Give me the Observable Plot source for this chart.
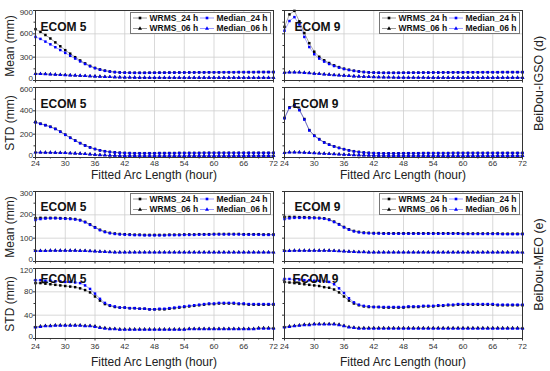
<!DOCTYPE html>
<html><head><meta charset="utf-8">
<script src="https://cdn.jsdelivr.net/npm/d3@7"></script>
<script src="https://cdn.jsdelivr.net/npm/@observablehq/plot@0.6"></script>
<style>
html,body{margin:0;padding:0;background:#fff;}
#chart{position:relative;width:550px;height:371px;overflow:hidden;background:#fff;font-family:"Liberation Sans",Arial,sans-serif;}
.legend{position:absolute;background:#fff;border:1px solid #777;box-sizing:border-box;}
</style></head><body><div id="chart"></div>
<script>
// ---------- data ----------
const hours = [24,25,26,27,28,29,30,31,32,33,34,35,36,37,38,39,40,41,42,43,44,45,46,47,48,49,50,51,52,53,54,55,56,57,58,59,60,61,62,63,64,65,66,67,68,69,70,71,72];
const xTicks = [24,30,36,42,48,54,60,66,72];
const xMinor = [27,33,39,45,51,57,63,69];
const seriesNames = ["WRMS_24 h","WRMS_06 h","Median_24 h","Median_06 h"];

// BeiDou-IGSO, ECOM 5
const IGSO_E5_MEAN_W24 = [660,625,585,540,490,440,390,345,300,258,220,188,162,142,127,116,109,104,101,100,99,99,99,100,100,101,101,102,102,103,103,104,104,105,105,106,106,106,107,107,107,108,108,108,108,109,109,109,109];
const IGSO_E5_MEAN_W06 = [88,86,84,81,78,75,72,69,66,63,60,57,54,51,48,46,44,42,41,40,39,38,38,37,37,37,37,37,36,36,36,36,36,36,36,37,37,37,37,37,37,37,37,36,36,36,36,36,36];
const IGSO_E5_MEAN_M24 = [560,535,500,465,428,392,355,318,282,245,212,182,158,139,124,114,107,103,100,99,98,98,98,99,99,100,100,101,101,102,102,103,103,104,104,105,105,105,106,106,106,107,107,107,107,108,108,108,108];
const IGSO_E5_MEAN_M06 = [85,84,82,79,76,73,70,67,64,61,58,55,52,49,47,45,43,41,40,39,38,37,37,36,36,36,36,36,35,35,35,35,35,35,35,36,36,36,36,36,36,36,36,35,35,35,35,35,35];
const IGSO_E5_STD_W24 = [305,290,278,264,246,222,196,170,146,124,104,87,73,62,54,48,44,41,39,38,37,37,37,37,37,38,38,38,38,39,39,39,39,39,40,40,40,40,40,40,40,40,40,40,40,40,40,40,40];
const IGSO_E5_STD_W06 = [45,44,44,43,42,41,40,38,36,34,31,28,25,22,20,18,17,16,15,15,15,14,14,14,14,14,14,14,14,14,14,15,15,15,15,15,15,15,15,15,15,15,15,15,15,15,15,15,15];
const IGSO_E5_STD_M24 = [300,288,276,262,244,220,194,168,144,122,102,86,72,61,53,47,43,40,38,37,36,36,36,36,36,37,37,37,37,38,38,38,38,38,39,39,39,39,39,39,39,39,39,39,39,39,39,39,39];
const IGSO_E5_STD_M06 = [43,43,42,42,41,40,39,37,35,33,30,27,24,21,19,17,16,15,14,14,14,13,13,13,13,13,13,13,13,13,13,14,14,14,14,14,14,14,14,14,14,14,14,14,14,14,14,14,14];

// BeiDou-IGSO, ECOM 9
const IGSO_E9_MEAN_W24 = [690,850,895,760,610,480,370,305,260,225,195,172,152,138,126,117,110,105,102,100,99,99,99,99,100,100,101,101,102,102,103,103,104,104,105,105,105,106,106,106,107,107,107,107,108,108,108,108,108];
const IGSO_E9_MEAN_W06 = [105,108,108,106,102,97,92,87,82,77,72,68,64,60,56,53,50,48,46,44,43,42,41,40,40,39,39,39,39,38,38,38,38,38,38,38,38,38,38,38,38,38,38,38,38,38,38,38,38];
const IGSO_E9_MEAN_M24 = [640,765,815,720,560,430,338,282,243,212,186,165,147,134,123,115,108,104,101,99,98,98,98,98,99,99,100,100,101,101,102,102,103,103,104,104,104,105,105,105,106,106,106,106,107,107,107,107,107];
const IGSO_E9_MEAN_M06 = [102,105,105,103,99,94,89,84,79,74,70,66,62,58,54,51,48,46,44,42,41,40,39,38,38,37,37,37,37,36,36,36,36,36,36,36,36,36,36,36,36,36,36,36,36,36,36,36,36];
const IGSO_E9_STD_W24 = [340,430,450,410,330,235,188,158,130,111,96,83,72,62,54,48,43,40,38,37,36,36,36,36,37,37,37,37,38,38,38,38,38,38,39,39,39,39,39,39,39,39,39,39,39,39,39,39,39];
const IGSO_E9_STD_W06 = [42,45,46,45,43,41,39,37,35,33,31,29,27,25,23,21,19,18,17,16,16,15,15,15,15,15,15,15,15,15,15,15,15,15,15,15,15,15,15,15,15,15,15,15,15,15,15,15,15];
const IGSO_E9_STD_M24 = [335,425,447,405,325,232,185,155,128,109,94,81,70,60,52,46,42,39,37,36,35,35,35,35,36,36,36,36,37,37,37,37,37,37,38,38,38,38,38,38,38,38,38,38,38,38,38,38,38];
const IGSO_E9_STD_M06 = [40,43,44,43,41,39,37,35,33,31,29,27,25,23,21,19,18,17,16,15,15,14,14,14,14,14,14,14,14,14,14,14,14,14,14,14,14,14,14,14,14,14,14,14,14,14,14,14,14];

// BeiDou-MEO, ECOM 5
const MEO_E5_MEAN_W24 = [186,187,187,187,187,186,185,184,182,178,170,159,147,136,128,123,120,118,117,116,115,115,114,114,114,114,114,115,115,115,116,116,116,117,117,117,118,118,118,118,118,118,117,117,117,117,116,116,116];
const MEO_E5_MEAN_W06 = [46,46,46,47,47,47,47,47,47,46,46,45,44,43,42,41,40,40,40,40,40,40,40,40,40,40,40,40,40,40,40,40,40,40,40,40,40,40,40,40,40,40,40,40,40,40,40,40,40];
const MEO_E5_MEAN_M24 = [178,182,184,185,185,184,183,182,180,176,168,157,145,134,126,121,118,116,115,114,113,113,112,112,112,112,112,113,113,113,114,114,114,115,115,115,116,116,116,116,116,116,115,115,115,115,114,114,114];
const MEO_E5_MEAN_M06 = [45,45,45,46,46,46,46,46,46,45,45,44,43,42,41,40,39,39,39,39,39,39,39,39,39,39,39,39,39,39,39,39,39,39,39,39,39,39,39,39,39,39,39,39,39,39,39,39,39];
const MEO_E5_STD_W24 = [95,95,94,93,92,91,90,89,88,86,83,79,72,65,59,56,54,53,53,52,52,51,51,50,50,50,50,51,52,53,54,55,56,57,58,59,59,60,60,60,60,59,59,58,58,58,58,58,58];
const MEO_E5_STD_W06 = [20,21,22,22,23,23,23,23,23,23,22,22,21,19,18,17,17,16,16,16,16,16,16,16,16,16,16,16,16,16,16,17,17,17,17,17,17,17,17,17,17,17,17,17,17,18,18,18,18];
const MEO_E5_STD_M24 = [100,100,99,99,98,98,97,97,96,95,91,85,77,68,61,57,55,53,53,52,52,51,51,50,50,51,51,52,53,54,55,56,57,58,59,60,60,61,61,61,61,60,60,59,59,59,59,59,59];
const MEO_E5_STD_M06 = [19,20,21,21,22,22,22,22,22,22,21,21,20,18,17,16,16,15,15,15,15,15,15,15,15,15,15,15,15,15,15,16,16,16,16,16,16,16,16,16,16,16,16,16,16,17,17,17,17];

// BeiDou-MEO, ECOM 9
const MEO_E9_MEAN_W24 = [191,191,191,190,190,189,188,187,185,180,171,160,148,138,131,127,124,123,122,122,121,121,121,121,121,121,121,121,121,121,121,121,121,121,121,121,120,120,120,120,120,120,120,120,119,119,119,119,119];
const MEO_E9_MEAN_W06 = [46,46,47,47,47,47,47,47,47,47,46,45,44,43,42,41,41,40,40,40,40,40,40,40,40,40,40,40,40,40,40,40,40,40,40,40,40,40,40,40,40,40,40,40,40,40,40,40,40];
const MEO_E9_MEAN_M24 = [182,185,187,187,187,186,186,185,183,178,169,158,146,136,129,125,122,121,120,120,119,119,119,119,119,119,119,119,119,119,119,119,119,119,119,119,118,118,118,118,118,118,118,118,117,117,117,117,117];
const MEO_E9_MEAN_M06 = [45,45,46,46,46,46,46,46,46,46,45,44,43,42,41,40,40,39,39,39,39,39,39,39,39,39,39,39,39,39,39,39,39,39,39,39,39,39,39,39,39,39,39,39,39,39,39,39,39];
const MEO_E9_STD_W24 = [97,96,95,94,93,92,91,90,88,87,84,79,72,65,60,57,55,54,54,54,53,53,53,53,53,54,54,54,55,55,55,56,56,57,57,58,58,58,58,58,58,58,58,57,57,57,57,57,57];
const MEO_E9_STD_W06 = [20,21,22,23,24,24,25,25,25,25,25,24,22,20,19,18,18,18,18,18,18,18,18,18,18,18,18,18,18,18,18,18,18,18,18,18,18,18,18,18,18,18,18,18,18,18,18,18,18];
const MEO_E9_STD_M24 = [102,102,101,101,100,100,99,99,98,97,93,86,78,69,62,58,56,55,54,54,54,54,54,54,54,55,55,55,56,56,56,57,57,58,58,59,59,59,59,59,59,59,59,58,58,58,58,58,58];
const MEO_E9_STD_M06 = [19,20,21,22,23,23,24,24,24,24,24,23,21,19,18,17,17,17,17,17,17,17,17,17,17,17,17,17,17,17,17,17,17,17,17,17,17,17,17,17,17,17,17,17,17,17,17,17,17];

// ---------- styling / layout ----------
const FONT = '"Liberation Sans", Arial, sans-serif';
const colorRange = ["#000000","#000000","#0000ff","#0000ff"];
const symbolRange = ["square","triangle","square","triangle"];
const PW = 238, PH = 70;
const colLeft = [35, 284];
const groups = [
  {name:"BeiDou-IGSO (d)", meanTop:10, stdTop:87, meanDomain:[0,900], meanTicks:[0,300,600,900], meanMinor:[150,450,750],
   stdDomain:[0,600], stdTicks:[0,200,400,600], stdMinor:[100,300,500], xPad:0.5, xTitleY:179, labelDy:[12,12],
   data:[[IGSO_E5_MEAN_W24,IGSO_E5_MEAN_W06,IGSO_E5_MEAN_M24,IGSO_E5_MEAN_M06],[IGSO_E5_STD_W24,IGSO_E5_STD_W06,IGSO_E5_STD_M24,IGSO_E5_STD_M06],
         [IGSO_E9_MEAN_W24,IGSO_E9_MEAN_W06,IGSO_E9_MEAN_M24,IGSO_E9_MEAN_M06],[IGSO_E9_STD_W24,IGSO_E9_STD_W06,IGSO_E9_STD_M24,IGSO_E9_STD_M06]]},
  {name:"BeiDou-MEO (e)", meanTop:191, stdTop:268, meanDomain:[0,300], meanTicks:[0,100,200,300], meanMinor:[50,150,250],
   stdDomain:[0,120], stdTicks:[0,40,80,120], stdMinor:[20,60,100], xPad:2, xTitleY:366, labelDy:[11,6],
   data:[[MEO_E5_MEAN_W24,MEO_E5_MEAN_W06,MEO_E5_MEAN_M24,MEO_E5_MEAN_M06],[MEO_E5_STD_W24,MEO_E5_STD_W06,MEO_E5_STD_M24,MEO_E5_STD_M06],
         [MEO_E9_MEAN_W24,MEO_E9_MEAN_W06,MEO_E9_MEAN_M24,MEO_E9_MEAN_M06],[MEO_E9_STD_W24,MEO_E9_STD_W06,MEO_E9_STD_M24,MEO_E9_STD_M06]]}
];
const ecomNames = ["ECOM 5","ECOM 9"];

const chart = document.getElementById("chart");

function makePanel({values, domain, ticks, minor, left, top, yLabels, xLabels, xPad, label, labelDx, labelDy}) {
  const rows = [];
  seriesNames.forEach((s, k) => hours.forEach((h, i) => rows.push({h, v: values[k][i], s})));
  const mL = 30, mR = 4, mT = 4, mB = 22;
  const yLabelMarks = yLabels ? [
    Plot.axisY([ticks[0]], {anchor: "left", tickSize: 0, tickPadding: 2.5, dy: -2.5, label: null, fontSize: 8}),
    Plot.axisY(ticks.slice(1, -1), {anchor: "left", tickSize: 0, tickPadding: 2.5, label: null, fontSize: 8}),
    Plot.axisY([ticks[ticks.length - 1]], {anchor: "left", tickSize: 0, tickPadding: 2.5, dy: 2, label: null, fontSize: 8})
  ] : [];
  const svg = Plot.plot({
    width: PW + mL + mR, height: PH + mT + mB,
    marginLeft: mL, marginRight: mR, marginTop: mT, marginBottom: mB,
    style: {fontFamily: FONT, fontSize: "8px", color: "#333", background: "transparent", overflow: "visible"},
    x: {domain: [24, 72]},
    y: {domain: domain},
    color: {domain: seriesNames, range: colorRange},
    symbol: {domain: seriesNames, range: symbolRange},
    marks: [
      Plot.gridX(xTicks.slice(1, -1), {stroke: "#cfcfcf", strokeOpacity: 1, strokeWidth: 0.8}),
      Plot.gridY(ticks.slice(1, -1), {stroke: "#cfcfcf", strokeOpacity: 1, strokeWidth: 0.8}),
      Plot.axisX(xTicks, {anchor: "bottom", tickSize: 2.5, tickPadding: xPad, label: null, fontSize: 8, tickFormat: xLabels ? d => String(d) : () => ""}),
      Plot.axisX(xMinor, {anchor: "bottom", tickSize: 1.5, label: null, tickFormat: () => ""}),
      Plot.axisY(ticks, {anchor: "left", tickSize: 2, label: null, tickFormat: () => ""}),
      Plot.axisY(minor, {anchor: "left", tickSize: 1.5, label: null, tickFormat: () => ""}),
      ...yLabelMarks,
      Plot.line(rows, {x: "h", y: "v", z: "s", stroke: "s", strokeWidth: 0.7, strokeOpacity: 0.5}),
      Plot.dot(rows, {x: "h", y: "v", fill: "s", symbol: "s", r: 1.4, stroke: "none"}),
      Plot.frame({stroke: "#333", strokeWidth: 1}),
      Plot.text([label], {text: d => d, frameAnchor: "top-left", textAnchor: "start", dx: labelDx, dy: labelDy, fontWeight: "bold", fontSize: 12, fill: "#111"})
    ]
  });
  svg.style.position = "absolute";
  svg.style.left = (left - mL) + "px";
  svg.style.top = (top - mT) + "px";
  chart.appendChild(svg);
}

function makeLegend(left, top) {
  const div = document.createElement("div");
  div.className = "legend";
  div.style.left = left + "px"; div.style.top = top + "px";
  div.style.width = "141px"; div.style.height = "22px";
  const s = d3.create("svg").attr("width", 139).attr("height", 20).style("position", "absolute").style("left", "0").style("top", "0");
  const sym = {square: d3.symbolSquare, triangle: d3.symbolTriangle};
  seriesNames.forEach((name, k) => {
    const col = k >= 2 ? 1 : 0, row = k % 2;
    const x0 = col ? 69 : 2, y0 = row ? 15.5 : 5;
    const g = s.append("g").attr("transform", `translate(${x0},${y0})`);
    g.append("line").attr("x1", 0).attr("x2", 14).attr("y1", 0).attr("y2", 0).attr("stroke", colorRange[k]).attr("stroke-opacity", 0.5).attr("stroke-width", 0.8);
    g.append("path").attr("d", d3.symbol(sym[symbolRange[k]], 7)()).attr("transform", "translate(7,0)").attr("fill", colorRange[k]);
    g.append("text").attr("x", 16.5).attr("y", 0).attr("dy", "0.35em").attr("font-size", 8.5).attr("font-weight", "bold").attr("font-family", FONT).attr("fill", "#111").text(name);
  });
  div.appendChild(s.node());
  chart.appendChild(div);
}

groups.forEach(g => {
  [0, 1].forEach(c => {
    const left = colLeft[c];
    makePanel({values: g.data[c * 2], domain: g.meanDomain, ticks: g.meanTicks, minor: g.meanMinor, left, top: g.meanTop,
      yLabels: c === 0, xLabels: false, xPad: g.xPad, label: ecomNames[c], labelDx: c ? 10 : 5, labelDy: g.labelDy[0]});
    makePanel({values: g.data[c * 2 + 1], domain: g.stdDomain, ticks: g.stdTicks, minor: g.stdMinor, left, top: g.stdTop,
      yLabels: c === 0, xLabels: true, xPad: g.xPad, label: ecomNames[c], labelDx: c ? 8 : 5, labelDy: g.labelDy[1]});
    makeLegend(left + PW - 143, g.meanTop + 2);
  });
});

// titles
const ov = d3.create("svg").attr("width", 550).attr("height", 371)
  .style("position", "absolute").style("left", "0").style("top", "0").style("pointer-events", "none")
  .attr("font-family", FONT).attr("fill", "#222");
groups.forEach(g => {
  [["Mean (mm)", g.meanTop], ["STD (mm)", g.stdTop]].forEach(([t, top]) => {
    ov.append("text").attr("transform", `translate(9.5,${top + PH / 2 + 1}) rotate(-90)`).attr("text-anchor", "middle")
      .attr("dy", "0.35em").attr("font-size", 12).text(t);
  });
  colLeft.forEach(l => {
    ov.append("text").attr("x", l + PW / 2).attr("y", g.xTitleY).attr("text-anchor", "middle").attr("font-size", 12).text("Fitted Arc Length (hour)");
  });
  ov.append("text").attr("transform", `translate(539,${(g.meanTop + g.stdTop + PH) / 2}) rotate(-90)`).attr("text-anchor", "middle")
    .attr("dy", "0.35em").attr("font-size", 12.5).text(g.name);
});
chart.appendChild(ov.node());
</script></body></html>
